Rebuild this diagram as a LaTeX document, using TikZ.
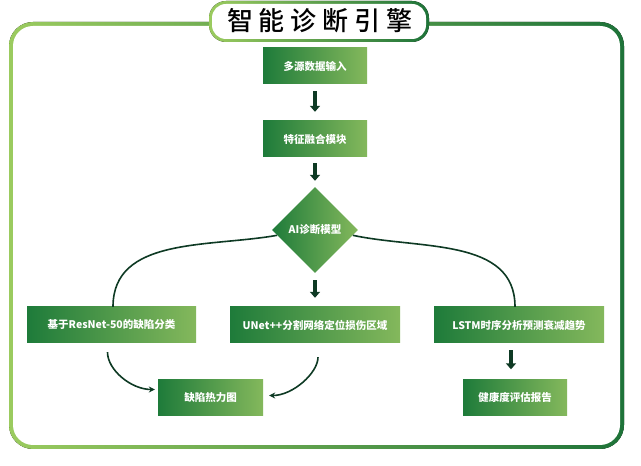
\documentclass[tikz,border=0pt]{standalone}
\usepackage{fontspec}
\setmainfont{Noto Sans CJK SC}
\newfontfamily\titlefont{Noto Sans CJK SC Medium}
\usetikzlibrary{shapes.geometric,arrows.meta}
\definecolor{boxdark}{HTML}{1E7B3A}
\definecolor{boxlight}{HTML}{84B85C}
\definecolor{framelight}{HTML}{9BCB5F}
\definecolor{framedark}{HTML}{1E7339}
\definecolor{arrowc}{HTML}{0E3A24}
\newcommand\tgap{\hspace{6pt}}
\begin{document}
\begin{tikzpicture}[x=1pt,y=1pt,
 blk/.style={left color=boxdark,right color=boxlight,text=white,font=\bfseries\fontsize{10.5}{12}\selectfont,minimum height=36pt,inner sep=0pt},
 dec/.style={shape=diamond,left color=boxdark,right color=boxlight,text=white,font=\bfseries\fontsize{10.5}{12}\selectfont,minimum width=86pt,minimum height=86pt,aspect=1,inner sep=0pt},
 stem/.style={draw=arrowc,line width=4pt,-{Triangle[length=6pt,width=10pt]},shorten <=7pt,shorten >=9pt},
 curveline/.style={draw=arrowc,line width=1.6pt},
 tip/.style={-{Stealth[length=6pt,width=6pt]}}]
\useasboundingbox (0,0) rectangle (641,466);
% frame
\fill[left color=framelight,right color=framedark,rounded corners=24pt] (9,17) rectangle (624,444);
\fill[white,rounded corners=20pt] (13,21) rectangle (620,440);
% title
\fill[left color=framelight,right color=framedark,rounded corners=17pt] (209,424) rectangle (429,465);
\fill[white,rounded corners=14pt] (212,427) rectangle (426,462);
\node[font=\titlefont\fontsize{26}{28}\selectfont] (title) at (320,445) {智\tgap 能\tgap 诊\tgap 断\tgap 引\tgap 擎};
% nodes
\node[blk,minimum width=104pt] (in) at (315,400) {多源数据输入};
\node[blk,minimum width=104pt] (fuse) at (315,327) {特征融合模块};
\node[dec] (ai) at (315,236) {AI诊断模型};
\node[blk,minimum width=169pt] (cls) at (111.5,141) {基于ResNet-50的缺陷分类};
\node[blk,minimum width=170pt] (seg) at (315,141) {UNet++分割网络定位损伤区域};
\node[blk,minimum width=170pt] (lstm) at (519,141) {LSTM时序分析预测衰减趋势};
\node[blk,minimum width=105pt] (heat) at (210.5,68.5) {缺陷热力图};
\node[blk,minimum width=104pt] (rep) at (515,68.5) {健康度评估报告};
% arrows
\draw[stem] (in) -- (fuse);
\draw[stem,shorten <=6pt,shorten >=6pt] (fuse) -- (ai);
\draw[stem,shorten >=9pt] (ai) -- (seg);
\draw[stem,shorten >=10pt] ([xshift=-8pt]lstm.south) -- ([xshift=-4pt]rep.north);
\draw[curveline] (ai.188) to[out=190,in=90] ([xshift=1.5pt]cls.north);
\draw[curveline] (ai.-8) to[out=-12,in=90] ([xshift=-4pt]lstm.north);
\draw[curveline,tip,shorten <=9pt,shorten >=3pt] ([xshift=-4pt]cls.south) to[out=-90,in=180] ([yshift=8pt]heat.west);
\draw[curveline,tip,shorten <=14pt,shorten >=6pt] ([xshift=3pt]seg.south) to[out=-90,in=0] ([yshift=2pt]heat.east);
\end{tikzpicture}
\end{document}
